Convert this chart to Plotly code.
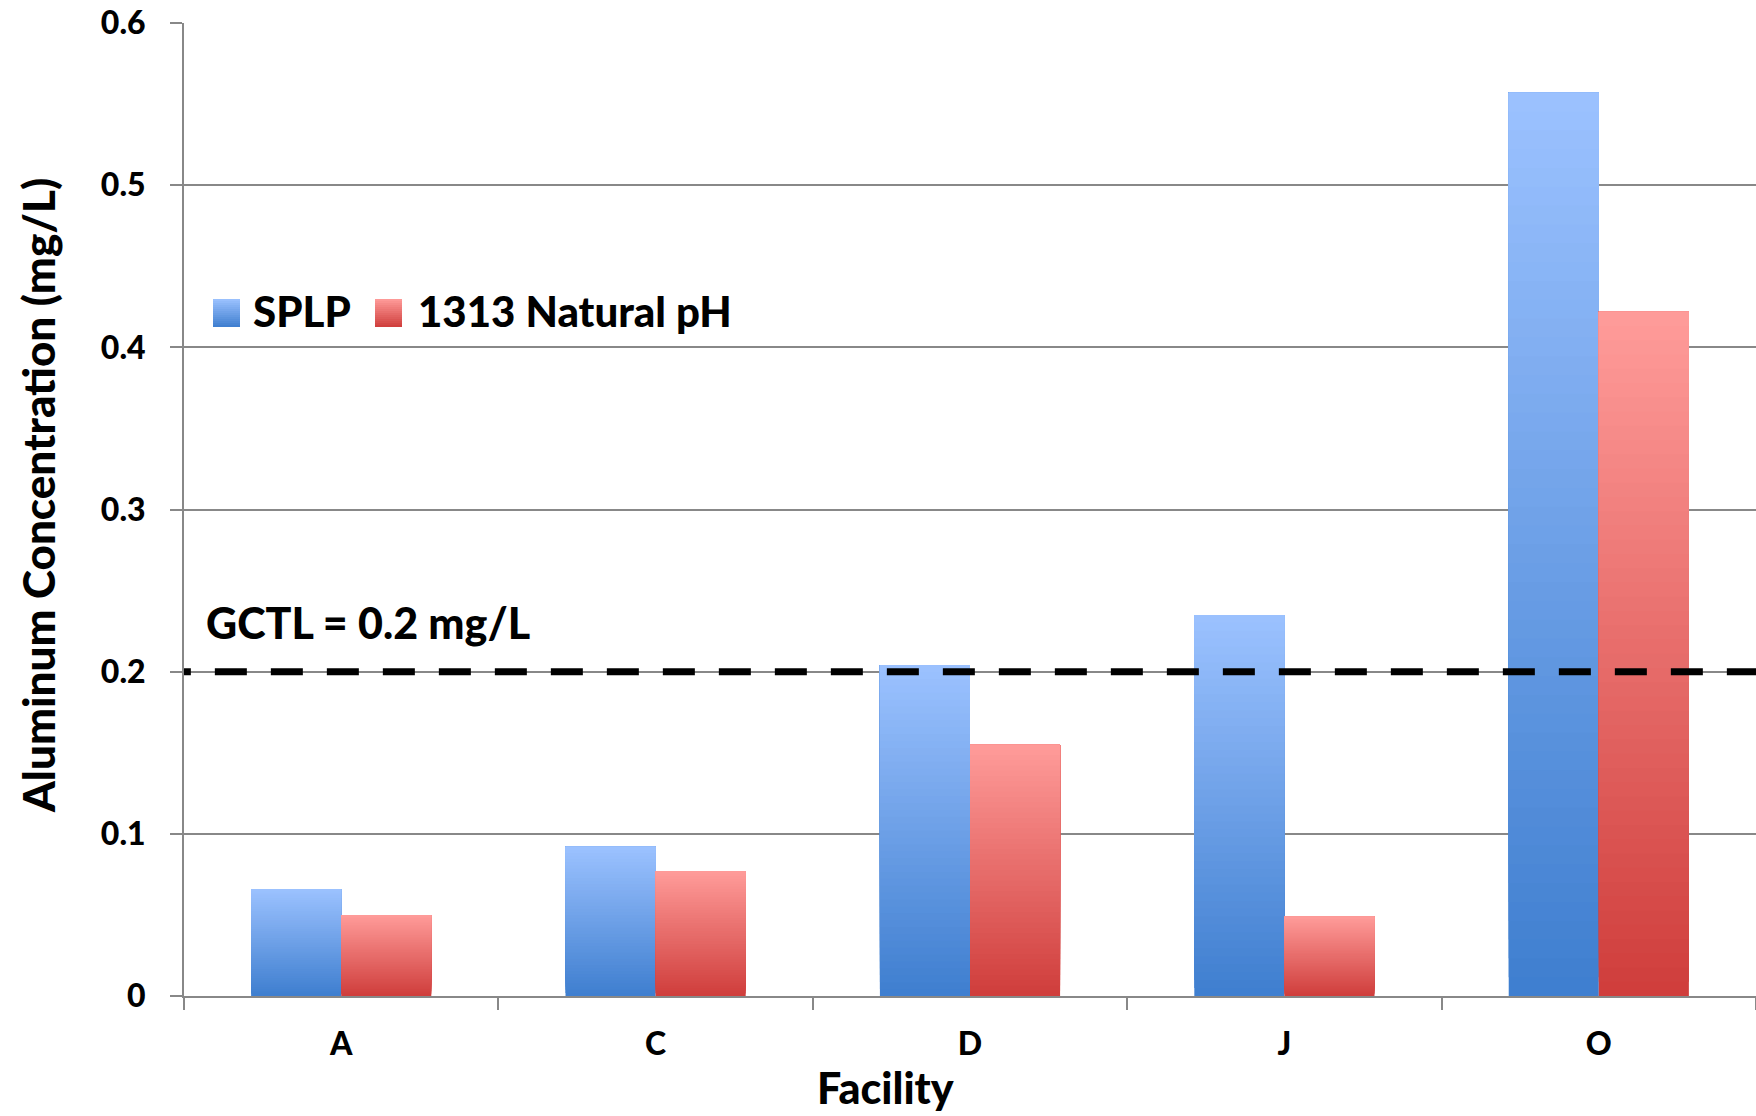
import plotly.graph_objects as go

# ---- data -------------------------------------------------------------
facilities = ["A", "C", "D", "J", "O"]
splp = [0.066, 0.092, 0.204, 0.235, 0.557]
natural_ph = [0.050, 0.077, 0.155, 0.049, 0.422]
gctl = 0.2
gctl_label = "GCTL = 0.2 mg/L"
y_ticks = [0, 0.1, 0.2, 0.3, 0.4, 0.5, 0.6]
y_tick_labels = ["0", "0.1", "0.2", "0.3", "0.4", "0.5", "0.6"]
series_names = ["SPLP", "1313 Natural pH"]

# ---- layout geometry ----------------------------------------------------
W, H = 1756, 1116
ML, MR, MT, MB = 184, 0, 23, 120
PW, PH = W - ML - MR, H - MT - MB
FONT = "Lato"
WEIGHT = 900
GRID = "#888888"

# gradient end colours (top, bottom) for each series
gradients = {
    "SPLP": ("#9CC2FF", "#3E7ECF"),
    "1313 Natural pH": ("#FF9C9A", "#CF3D3B"),
}
SLICES = 48


def px_x(p):
    return (p - ML) / PW


def px_y(p):
    return (MT + PH - p) / PH


def hex_rgb(h):
    h = h.lstrip("#")
    return tuple(int(h[i:i + 2], 16) for i in (0, 2, 4))


def blend(c_bottom, c_top, t):
    a, b = hex_rgb(c_bottom), hex_rgb(c_top)
    r = [round(a[i] + (b[i] - a[i]) * t) for i in range(3)]
    return "rgb({},{},{})".format(*r)


fig = go.Figure()

# Each bar is painted as a stack of layers that all end at the bar's value;
# every layer starts a little higher and is a little lighter, which gives
# a seamless vertical gradient from dark (bottom) to light (top).
for name, vals in zip(series_names, [splp, natural_ph]):
    top, bottom = gradients[name]
    for k in range(SLICES):
        frac = k / SLICES
        fig.add_bar(
            x=facilities,
            y=[v * (1 - frac) for v in vals],
            base=[v * frac for v in vals],
            offsetgroup=name,
            name=name,
            legendgroup=name,
            showlegend=False,
            customdata=vals,
            hovertemplate="%{x}: %{customdata} mg/L<extra>" + name + "</extra>",
            marker=dict(color=blend(bottom, top, (k + 0.5) / SLICES), line=dict(width=0)),
        )

# GCTL threshold line
fig.add_shape(
    type="line", xref="x", yref="y",
    x0=-0.58, x1=4.7, y0=gctl, y1=gctl,
    line=dict(color="black", width=7, dash="32px,24px"),
    layer="above",
)

annotations = [
    dict(text=gctl_label, x=px_x(204), y=px_y(622), xanchor="left", yanchor="middle",
         font=dict(size=43)),
    dict(text="Facility", x=px_x(885), y=px_y(1087), xanchor="center", yanchor="middle",
         font=dict(size=43)),
    dict(text="Aluminum Concentration (mg/L)", x=px_x(38), y=px_y(496), textangle=-90,
         xanchor="center", yanchor="middle", font=dict(size=44)),
]

# legend drawn by hand: gradient squares plus labels
legend_items = [(series_names[0], 213, 251), (series_names[1], 375, 416)]
sq_top, sq_bot, sq_w = 299, 327, 27
shapes = []
strips = 14
for name, sx, tx in legend_items:
    top, bottom = gradients[name]
    for s in range(strips):
        y0 = sq_bot - (sq_bot - sq_top) * s / strips
        shapes.append(dict(
            type="rect", xref="paper", yref="paper",
            x0=px_x(sx), x1=px_x(sx + sq_w), y0=px_y(y0), y1=px_y(sq_top),
            line=dict(width=0),
            fillcolor=blend(bottom, top, (s + 0.5) / strips),
            layer="above",
        ))
    annotations.append(dict(text=name, x=px_x(tx), y=px_y(311), xanchor="left",
                            yanchor="middle", font=dict(size=42)))

for sh in shapes:
    fig.add_shape(**sh)

for a in annotations:
    a.update(xref="paper", yref="paper", showarrow=False)
    a["font"].update(family=FONT, color="black", weight=WEIGHT)
    fig.add_annotation(**a)

fig.update_layout(
    width=W, height=H,
    margin=dict(l=ML, r=MR, t=MT, b=MB, autoexpand=False),
    paper_bgcolor="white", plot_bgcolor="white",
    barmode="group", bargap=0.427, bargroupgap=0,
    showlegend=False,
    font=dict(family=FONT, color="black", weight=WEIGHT),
)

fig.update_xaxes(
    type="category", categoryorder="array", categoryarray=facilities,
    range=[-0.5, 4.5],
    tickson="boundaries", ticks="outside", ticklen=12, tickwidth=2, tickcolor=GRID,
    showline=True, linecolor=GRID, linewidth=2,
    showgrid=False,
    tickfont=dict(size=32, family=FONT, color="black", weight=WEIGHT),
    ticklabelstandoff=19,
)

fig.update_yaxes(
    range=[0, 0.6],
    tickvals=y_ticks, ticktext=y_tick_labels,
    ticks="outside", ticklen=12, tickwidth=2, tickcolor=GRID,
    showline=True, linecolor=GRID, linewidth=2,
    showgrid=True, gridcolor=GRID, gridwidth=2,
    zeroline=False,
    tickfont=dict(size=32, family=FONT, color="black", weight=WEIGHT),
    ticklabelstandoff=18,
)

fig.write_html("out.html")
